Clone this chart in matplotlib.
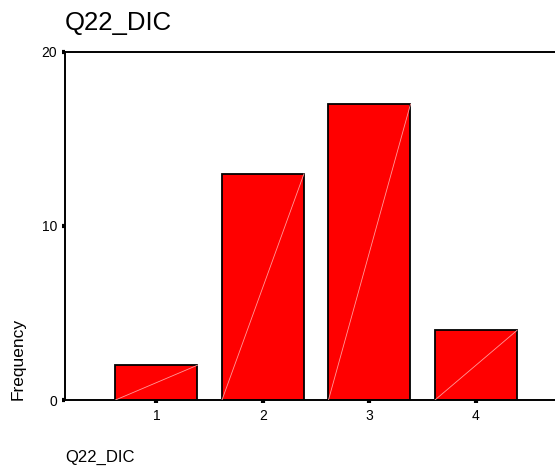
import matplotlib
matplotlib.use("Agg")
import matplotlib.pyplot as plt

# Data
categories = [1, 2, 3, 4]
frequencies = [2, 13, 17, 4]
y_ticks = [0, 10, 20]
var_name = "Q22_DIC"

plt.rcParams['font.family'] = ['Liberation Sans', 'DejaVu Sans']

W, H = 555, 470
fig = plt.figure(figsize=(W / 100, H / 100), dpi=100)
ax = fig.add_axes([65 / W, 70 / H, 1 - 65 / W, (400 - 52) / H])

bar_width = 0.77
bars = ax.bar(categories, frequencies, width=bar_width, color='#ff0000',
              edgecolor='black', linewidth=1.3, zorder=2)

# faint diagonal line inside each bar (SPSS rendering artefact)
for x, v in zip(categories, frequencies):
    ax.plot([x - bar_width / 2, x + bar_width / 2], [0, v],
            color='#ff9a9a', linewidth=0.6, zorder=3)

ax.set_xlim(0.141, 4.742)
ax.set_ylim(0, 20)
ax.set_xticks(categories)
ax.set_yticks(y_ticks)
ax.tick_params(axis='both', direction='out', length=2.5, width=3,
               labelsize=10, color='black')
ax.tick_params(axis='y', pad=3)
ax.tick_params(axis='x', pad=4)

ax.spines['right'].set_visible(False)
for s in ['left', 'top', 'bottom']:
    ax.spines[s].set_linewidth(1.4)
    ax.spines[s].set_color('black')

fig.text(65 / W, 1 - 23 / H, var_name, fontsize=18.5, va='center', ha='left')
fig.text(65 / W, 1 - 457 / H, var_name, fontsize=12, va='center', ha='left')
fig.text(18 / W, 70 / H, "Frequency", fontsize=12.5, rotation=90,
         va='bottom', ha='center')

fig.savefig("out.png", dpi=100)
